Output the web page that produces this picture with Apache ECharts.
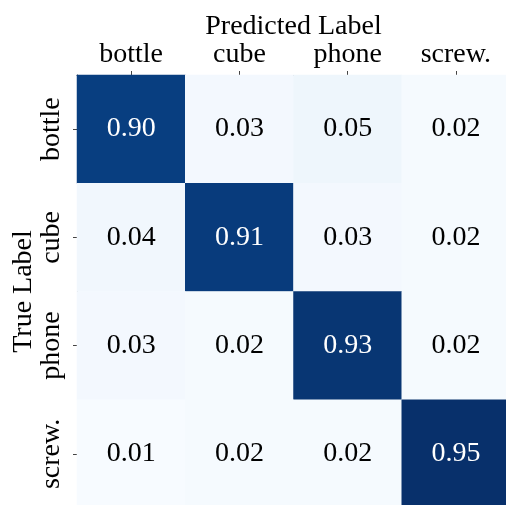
<!DOCTYPE html>
<html>
<head>
<meta charset="utf-8">
<script src="https://cdn.jsdelivr.net/npm/echarts@6/dist/echarts.min.js"></script>
<style>html,body{margin:0;padding:0;background:#fff;}#c{width:506px;height:505px;}</style>
</head>
<body>
<div id="c"></div>
<script>
const predLabels = ['bottle', 'cube', 'phone', 'screw.'];
const trueLabels = ['bottle', 'cube', 'phone', 'screw.'];
const matrix = [
  [0.90, 0.03, 0.05, 0.02],
  [0.04, 0.91, 0.03, 0.02],
  [0.03, 0.02, 0.93, 0.02],
  [0.01, 0.02, 0.02, 0.95]
];
const blues = ['#f7fbff','#deebf7','#c6dbef','#9ecae1','#6baed6','#4292c6','#2171b5','#08519c','#08306b'];
const FONT = 'Liberation Serif';
const data = [];
matrix.forEach((row, i) => row.forEach((v, j) => {
  data.push({value: [j, i, v], label: {color: v > 0.5 ? '#ffffff' : '#000000'}});
}));
const chart = echarts.init(document.getElementById('c'), null, {renderer: 'canvas'});
chart.setOption({
  animation: false,
  backgroundColor: '#ffffff',
  grid: {left: 77, top: 75, width: 433, height: 433, outerBoundsMode: 'none', containLabel: false},
  xAxis: {
    type: 'category', data: predLabels, position: 'top',
    name: 'Predicted Label', nameLocation: 'middle', nameGap: 34, nameMoveOverlap: false,
    nameTextStyle: {fontFamily: FONT, fontSize: 28, color: '#000'},
    axisLine: {show: true, lineStyle: {color: '#444', width: 1}},
    axisTick: {show: true, alignWithLabel: true, length: 4, lineStyle: {color: '#444'}},
    axisLabel: {fontFamily: FONT, fontSize: 28, color: '#000', margin: 6},
    splitLine: {show: false}
  },
  yAxis: {
    type: 'category', data: trueLabels, inverse: true,
    name: 'True Label', nameLocation: 'middle', nameGap: 39, nameRotate: 90, nameMoveOverlap: false,
    nameTextStyle: {fontFamily: FONT, fontSize: 28, color: '#000'},
    axisLine: {show: true, lineStyle: {color: '#444', width: 1}},
    axisTick: {show: true, alignWithLabel: true, length: 4, lineStyle: {color: '#444'}},
    axisLabel: {fontFamily: FONT, fontSize: 28, color: '#000', rotate: 90, margin: 11},
    splitLine: {show: false}
  },
  visualMap: {show: false, min: 0.01, max: 0.95, dimension: 2, inRange: {color: blues}},
  series: [{
    type: 'heatmap', data: data,
    label: {show: true, fontFamily: FONT, fontSize: 28, formatter: p => p.value[2].toFixed(2)},
    itemStyle: {borderWidth: 0},
    emphasis: {disabled: true}
  }]
});
</script>
</body>
</html>
